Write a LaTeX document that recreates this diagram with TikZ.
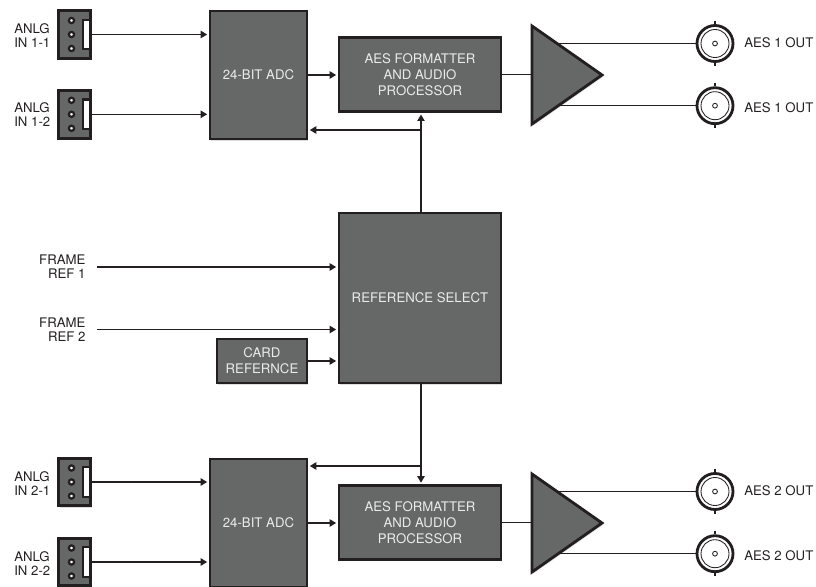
\documentclass[tikz,border=0pt]{standalone}
\usepackage{fontspec}
\setmainfont{TeX Gyre Heros}
\usepackage{tikz}
\usetikzlibrary{arrows.meta}
\usetikzlibrary{shadows}
\usetikzlibrary{shapes.geometric}
\definecolor{boxgray}{HTML}{666868}
\definecolor{inkblk}{HTML}{231F20}
\tikzset{blk/.style={rectangle,fill=boxgray,draw=inkblk,line width=2pt,text=white!92!black,align=center,inner sep=0pt,
  font=\fontsize{9.4}{11.4}\selectfont,drop shadow={opacity=0.25,shadow xshift=1pt,shadow yshift=-1.2pt}}}
\tikzset{amp/.style={isosceles triangle,isosceles triangle stretches,shape border rotate=0,fill=boxgray,draw=inkblk,line width=2pt,
  inner sep=0pt,outer sep=0pt,minimum width=2.45cm,minimum height=1.75cm,anchor=west,drop shadow={opacity=0.25,shadow xshift=1pt,shadow yshift=-1.2pt}}}
\tikzset{pin/.style={circle,fill=white,draw=inkblk,line width=1.6pt,inner sep=0pt,minimum size=0.13cm}}
\tikzset{slot/.style={rectangle,fill=white,draw=inkblk,line width=1.6pt,inner sep=0pt,minimum width=0.16cm,minimum height=0.74cm}}
\tikzset{bnc/.style={circle,fill=white,draw=inkblk,line width=2pt,inner sep=0pt,minimum size=0.9cm}}
\tikzset{bncin/.style={circle,draw=inkblk,line width=0.6pt,inner sep=0pt,minimum size=0.7cm}}
\tikzset{bnccore/.style={circle,draw=inkblk,line width=0.6pt,inner sep=0pt,minimum size=0.12cm}}
\tikzset{lbl/.style={text=inkblk,inner sep=0pt,font=\fontsize{9.4}{9.9}\selectfont}}
\tikzset{wire/.style={draw=inkblk,line width=0.9pt}}
\tikzset{arr/.style={wire,-{Triangle[length=4.6pt,width=5.2pt]},shorten >=1pt}}

\begin{document}
\begin{tikzpicture}[x=0.025cm,y=-0.025cm]
\useasboundingbox (0,0) rectangle (816,586);
% upper channel
\node[blk, minimum width=2.425cm, minimum height=3.2cm] (adcA) at (258.5,75) {24-BIT ADC};
\node[blk, minimum width=4.05cm, minimum height=1.85cm] (fmtA) at (420,74.7) {AES FORMATTER\\AND AUDIO\\PROCESSOR};
\node[amp] (ampA) at (532,75) {};
% lower channel
\node[blk, minimum width=2.425cm, minimum height=3.2cm] (adcB) at (258.5,523) {24-BIT ADC};
\node[blk, minimum width=4.05cm, minimum height=1.85cm] (fmtB) at (420,522.5) {AES FORMATTER\\AND AUDIO\\PROCESSOR};
\node[amp] (ampB) at (532,523) {};
% reference
\node[blk, minimum width=4.05cm, minimum height=4.25cm] (refsel) at (420,298) {REFERENCE SELECT};
\node[blk, minimum width=2.25cm, minimum height=1.1cm] (card) at (262,361) {CARD\\REFERNCE};
\node[lbl, align=right, anchor=east, inner xsep=8pt] (frameA) at (97,267) {FRAME\\REF 1};
\node[lbl, align=right, anchor=east, inner xsep=8pt] (frameB) at (97,329.5) {FRAME\\REF 2};

% jacks
\node[blk, minimum width=0.8cm, minimum height=1.19cm] (jackA) at (74.5,34.5) {};
\node[blk, minimum width=0.8cm, minimum height=1.19cm] (jackB) at (74.5,114.3) {};
\node[blk, minimum width=0.8cm, minimum height=1.19cm] (jackC) at (74.5,482) {};
\node[blk, minimum width=0.8cm, minimum height=1.19cm] (jackD) at (74.5,562) {};
\node[slot] (slotA) at (86.5,34.5) {};
\node[slot] (slotB) at (86.5,114.3) {};
\node[slot] (slotC) at (86.5,482) {};
\node[slot] (slotD) at (86.5,562) {};
\node[pin] (pinA1) at (71.5,20.5) {};
\node[pin] (pinA2) at (71.5,34.5) {};
\node[pin] (pinA3) at (71.5,48.5) {};
\node[pin] (pinB1) at (71.5,100.3) {};
\node[pin] (pinB2) at (71.5,114.3) {};
\node[pin] (pinB3) at (71.5,128.3) {};
\node[pin] (pinC1) at (71.5,468) {};
\node[pin] (pinC2) at (71.5,482) {};
\node[pin] (pinC3) at (71.5,496) {};
\node[pin] (pinD1) at (71.5,548) {};
\node[pin] (pinD2) at (71.5,562) {};
\node[pin] (pinD3) at (71.5,576) {};
\node[lbl, align=left, anchor=west] (lblA) at (14,36) {ANLG\\IN 1-1};
\node[lbl, align=left, anchor=west] (lblB) at (14,115) {ANLG\\IN 1-2};
\node[lbl, align=left, anchor=west] (lblC) at (14,484) {ANLG\\IN 2-1};
\node[lbl, align=left, anchor=west] (lblD) at (14,564) {ANLG\\IN 2-2};

% outputs
\coordinate (tapA) at (557.5,43.5);
\coordinate (tapB) at (558.5,105.7);
\coordinate (tapC) at (557.5,491.5);
\coordinate (tapD) at (558.5,553.7);
\coordinate (forkA) at (421,130);
\coordinate (forkB) at (421,466);
\node[bnc] (bncA) at (715,43.5) {};
\node[bnc] (bncB) at (715,105.7) {};
\node[bnc] (bncC) at (715,491.5) {};
\node[bnc] (bncD) at (715,553.7) {};
\node[bncin] (ringA) at (bncA) {};
\node[bncin] (ringB) at (bncB) {};
\node[bncin] (ringC) at (bncC) {};
\node[bncin] (ringD) at (bncD) {};
\node[bnccore] (coreA) at (bncA) {};
\node[bnccore] (coreB) at (bncB) {};
\node[bnccore] (coreC) at (bncC) {};
\node[bnccore] (coreD) at (bncD) {};
\node[lbl, anchor=west] (outA) at (744,43) {AES 1 OUT};
\node[lbl, anchor=west] (outB) at (744,108) {AES 1 OUT};
\node[lbl, anchor=west] (outC) at (744,491) {AES 2 OUT};
\node[lbl, anchor=west] (outD) at (744,556) {AES 2 OUT};

\draw[arr] (jackA.east) -- (jackA.east -| adcA.west);
\draw[arr] (jackB.east) -- (jackB.east -| adcA.west);
\draw[arr] (jackC.east) -- (jackC.east -| adcB.west);
\draw[arr] (jackD.east) -- (jackD.east -| adcB.west);
\draw[arr] (adcA.east) -- (adcA.east -| fmtA.west);
\draw[arr] (adcB.east) -- (adcB.east -| fmtB.west);
\draw[wire] (fmtA.east) -- (fmtA.east -| ampA.west);
\draw[wire] (fmtB.east) -- (fmtB.east -| ampB.west);
\draw[wire] (tapA) -- (bncA);
\draw[wire] (tapB) -- (bncB);
\draw[wire] (tapC) -- (bncC);
\draw[wire] (tapD) -- (bncD);
\draw[wire] (bncA.north) -- ++(0,-3);
\draw[wire] (bncA.south) -- ++(0,3);
\draw[wire] (bncB.north) -- ++(0,-3);
\draw[wire] (bncB.south) -- ++(0,3);
\draw[wire] (bncC.north) -- ++(0,-3);
\draw[wire] (bncC.south) -- ++(0,3);
\draw[wire] (bncD.north) -- ++(0,-3);
\draw[wire] (bncD.south) -- ++(0,3);
\draw[arr] (forkA |- refsel.north) -- (forkA |- fmtA.south);
\draw[arr] (forkA) -- (forkA -| adcA.east);
\draw[arr] (forkB |- refsel.south) -- (forkB |- fmtB.north);
\draw[arr] (forkB) -- (forkB -| adcB.east);
\draw[arr] (frameA.east) -- (frameA.east -| refsel.west);
\draw[arr] (frameB.east) -- (frameB.east -| refsel.west);
\draw[arr] (card.east) -- (card.east -| refsel.west);
\end{tikzpicture}
\end{document}
